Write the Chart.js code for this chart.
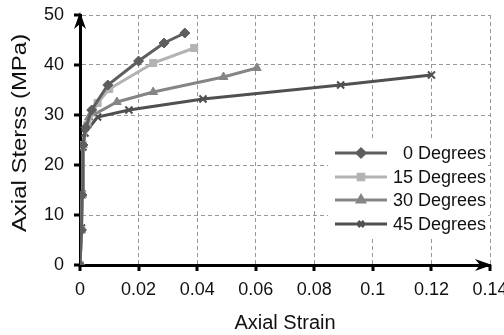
<!DOCTYPE html>
<html>
<head>
<meta charset="utf-8">
<script src="https://cdn.jsdelivr.net/npm/chart.js@4.4.1/dist/chart.umd.min.js"></script>
<style>
  html, body { margin: 0; padding: 0; background: #fff; }
  #wrap { width: 504px; height: 335px; }
</style>
</head>
<body>
<div id="wrap"><canvas id="myChart" width="504" height="335"></canvas></div>
<script>
// values
const seriesNames = ["0 Degrees", "15 Degrees", "30 Degrees", "45 Degrees"];

const strain0 = [0, 0.0005, 0.0007, 0.001, 0.002, 0.004, 0.0095, 0.020, 0.0287, 0.0358];
const stress0 = [0, 7, 14, 24, 27.5, 31, 36, 40.8, 44.4, 46.4];

const strain15 = [0, 0.0005, 0.0007, 0.001, 0.0025, 0.006, 0.010, 0.025, 0.039];
const stress15 = [0, 7, 14, 24, 28, 32.4, 35.2, 40.4, 43.4];

const strain30 = [0, 0.0005, 0.0007, 0.001, 0.003, 0.0126, 0.025, 0.049, 0.0604];
const stress30 = [0, 7, 14, 24, 29.5, 32.6, 34.6, 37.6, 39.4];

const strain45 = [0, 0.0005, 0.0007, 0.001, 0.0017, 0.006, 0.0167, 0.042, 0.089, 0.12];
const stress45 = [0, 7.4, 14.2, 23.6, 26.4, 29.6, 31, 33.2, 36, 38];

const xTickValues = [0, 0.02, 0.04, 0.06, 0.08, 0.1, 0.12, 0.14];
const yTickValues = [0, 10, 20, 30, 40, 50];

const yTitle = "Axial Sterss (MPa)";
const FONT = "'Liberation Sans', Arial, sans-serif";

const toPts = (xs, ys) => xs.map((x, i) => ({ x: x, y: ys[i] }));

const mkSet = (label, xs, ys, color, style, r, bw) => ({
    label: label,
    data: toPts(xs, ys),
    showLine: true,
    borderColor: color,
    backgroundColor: color,
    borderWidth: 3,
    pointStyle: style,
    pointRadius: r,
    pointBorderWidth: bw,
    pointBackgroundColor: color,
    pointBorderColor: color,
    tension: 0
});

// legend drawn inside the plot, like the original
const insideLegend = {
    id: "insideLegend",
    afterDatasetsDraw(chart) {
        const ctx = chart.ctx;
        ctx.save();
        ctx.fillStyle = "#fff";
        ctx.fillRect(328, 139, 160, 98);
        const rows = [153, 177, 200, 224];
        chart.data.datasets.forEach((ds, i) => {
            const y = rows[i];
            ctx.strokeStyle = ds.borderColor;
            ctx.lineWidth = 3;
            ctx.beginPath();
            ctx.moveTo(335, y);
            ctx.lineTo(387, y);
            ctx.stroke();
            ctx.fillStyle = ds.borderColor;
            Chart.helpers.drawPoint(ctx, {
                pointStyle: ds.pointStyle,
                radius: ds.pointRadius - 1,
                borderWidth: ds.pointBorderWidth,
                rotation: 0
            }, 361, y);
            ctx.fillStyle = "#111";
            ctx.font = "18px " + FONT;
            ctx.textAlign = "right";
            ctx.textBaseline = "middle";
            ctx.fillText(ds.label, 486, y + 1);
        });
        ctx.restore();
    }
};

// black tick marks, arrow heads and the (stretched) y title
const axisDecor = {
    id: "axisDecor",
    afterDraw(chart) {
        const a = chart.chartArea;
        const ctx = chart.ctx;
        const xs = chart.scales.x, ys = chart.scales.y;
        ctx.save();
        ctx.fillStyle = "#000";
        yTickValues.forEach(v => {
            const py = Math.round(ys.getPixelForValue(v));
            ctx.fillRect(a.left - 6, py - 1.5, 6, 3);
        });
        xTickValues.forEach(v => {
            const px = Math.round(xs.getPixelForValue(v));
            ctx.fillRect(px - 1.5, a.bottom, 3, 6);
        });
        // up
        ctx.beginPath();
        ctx.moveTo(a.left, a.top - 3);
        ctx.lineTo(a.left - 6, a.top + 14);
        ctx.lineTo(a.left, a.top + 9);
        ctx.lineTo(a.left + 6, a.top + 14);
        ctx.closePath();
        ctx.fill();
        // right
        ctx.beginPath();
        ctx.moveTo(a.right + 2, a.bottom);
        ctx.lineTo(a.right - 15, a.bottom - 6);
        ctx.lineTo(a.right - 10, a.bottom);
        ctx.lineTo(a.right - 15, a.bottom + 6);
        ctx.closePath();
        ctx.fill();
        // y title
        ctx.translate(20, 133);
        ctx.rotate(-Math.PI / 2);
        ctx.scale(1.14, 1);
        ctx.fillStyle = "#111";
        ctx.font = "21px " + FONT;
        ctx.textAlign = "center";
        ctx.textBaseline = "middle";
        ctx.fillText(yTitle, 0, 0);
        ctx.restore();
    }
};

let myChart = document.getElementById("myChart");
new Chart(myChart, {
    type: "scatter",
    data: {
        datasets: [
            mkSet(seriesNames[0], strain0, stress0, "#5e5e5e", "rectRot", 5, 1),
            mkSet(seriesNames[1], strain15, stress15, "#b3b3b3", "rect", 5, 1),
            mkSet(seriesNames[2], strain30, stress30, "#858585", "triangle", 5, 1),
            mkSet(seriesNames[3], strain45, stress45, "#505050", "crossRot", 5, 2)
        ]
    },
    options: {
        responsive: false,
        animation: false,
        layout: { padding: { top: 15, right: 14, left: 0, bottom: 0 } },
        plugins: {
            legend: { display: false },
            tooltip: { enabled: false }
        },
        scales: {
            x: {
                type: "linear",
                min: 0,
                max: 0.14,
                afterBuildTicks: (s) => { s.ticks = xTickValues.map(v => ({ value: v })); },
                afterFit: (s) => { s.height = 70; s.paddingLeft = 0; s.paddingRight = 0; },
                ticks: {
                    autoSkip: false,
                    maxRotation: 0,
                    padding: 9,
                    color: "#111",
                    font: { family: FONT, size: 18 },
                    callback: (v) => String(v)
                },
                grid: { color: "#999", lineWidth: 1, tickLength: 5, tickColor: "rgba(0,0,0,0)" },
                border: { color: "#000", width: 3, dash: [4, 3] },
                title: {
                    display: true,
                    text: "Axial Strain",
                    color: "#111",
                    font: { family: FONT, size: 20 },
                    padding: { top: 0, bottom: 0 }
                }
            },
            y: {
                type: "linear",
                min: 0,
                max: 50,
                afterBuildTicks: (s) => { s.ticks = yTickValues.map(v => ({ value: v })); },
                afterFit: (s) => { s.width = 80; s.paddingTop = 0; s.paddingBottom = 0; },
                ticks: {
                    padding: 11,
                    color: "#111",
                    font: { family: FONT, size: 18 }
                },
                grid: { color: "#999", lineWidth: 1, tickLength: 5, tickColor: "rgba(0,0,0,0)" },
                border: { color: "#000", width: 3, dash: [4, 3] },
                title: { display: false }
            }
        }
    },
    plugins: [insideLegend, axisDecor]
});
</script>
</body>
</html>
